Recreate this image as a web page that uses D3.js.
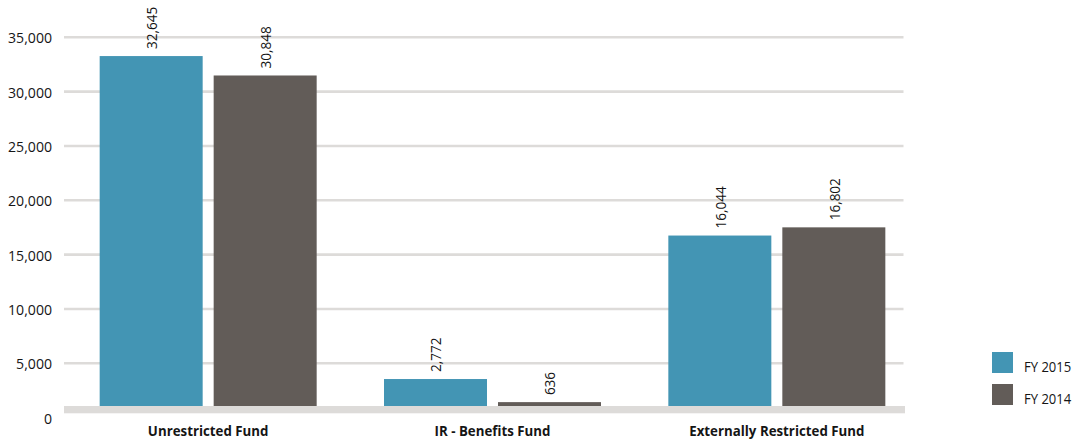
<!DOCTYPE html>
<html>
<head>
<meta charset="utf-8">
<script src="https://cdn.jsdelivr.net/npm/d3@7"></script>
<style>
  html, body { margin: 0; padding: 0; background: #ffffff; }
  svg { display: block; }
  text { font-family: "Open Sans", sans-serif; fill: #151515; }
</style>
</head>
<body>
<svg id="chart" width="1074" height="442"></svg>
<script>
const categories = ["Unrestricted Fund", "IR - Benefits Fund", "Externally Restricted Fund"];
const seriesNames = ["FY 2015", "FY 2014"];
const fy2015 = [32645, 2772, 16044];
const fy2014 = [30848, 636, 16802];
const tickValues = [0, 5000, 10000, 15000, 20000, 25000, 30000, 35000];
const colors = ["#4395b4", "#625c58"];

const seriesValues = [fy2015, fy2014];
const svg = d3.select("#chart");
const FONT = '"Open Sans", sans-serif';

const yAxis = d3.scaleLinear().domain([0, 35000]).range([417.6, 37.3]);
const yBar = d3.scaleLinear().domain([0, 35000]).range([409, 30.6]);

const x0 = d3.scaleBand().domain(categories).range([66, 919]);
const groupW = 217;
const x1 = d3.scaleBand().domain(seriesNames).range([0, groupW]).paddingInner(11 / 114);

svg.append("g")
  .selectAll("line")
  .data(tickValues.filter(d => d > 0))
  .join("line")
  .attr("x1", 64).attr("x2", 903.5)
  .attr("y1", d => yAxis(d)).attr("y2", d => yAxis(d))
  .attr("stroke", "#dddbd9")
  .attr("stroke-width", 2.6);

const axis = d3.axisLeft(yAxis).tickValues(tickValues).tickFormat(d3.format(",")).tickSize(0).tickPadding(0);
const gAxis = svg.append("g").attr("transform", "translate(52,0)").call(axis);
gAxis.select(".domain").remove();
gAxis.attr("font-family", null).attr("font-size", null);
gAxis.selectAll("text")
  .attr("font-size", 15)
  .attr("dy", "0.36em")
  .attr("transform", "scale(0.94,1)")
  .style("font-family", FONT)
  .attr("fill", "#151515");

const groups = svg.append("g")
  .selectAll("g")
  .data(categories)
  .join("g")
  .attr("transform", c => `translate(${x0(c) + (x0.bandwidth() - groupW) / 2},0)`);

groups.selectAll("rect")
  .data((c, i) => seriesNames.map((s, j) => ({ s, v: seriesValues[j][i], j })))
  .join("rect")
  .attr("x", d => x1(d.s))
  .attr("width", x1.bandwidth())
  .attr("y", d => yBar(d.v))
  .attr("height", d => yBar(0) - yBar(d.v))
  .attr("fill", d => colors[d.j]);

groups.selectAll("text.val")
  .data((c, i) => seriesNames.map((s, j) => ({ s, v: seriesValues[j][i], j })))
  .join("text")
  .attr("class", "val")
  .attr("transform", d => `translate(${x1(d.s) + x1.bandwidth() / 2 + 0.3},${yBar(d.v) - 7}) rotate(-90) scale(0.94,1)`)
  .attr("text-anchor", "start")
  .attr("dominant-baseline", "central")
  .attr("font-size", 14.4)
  .text(d => d3.format(",")(d.v));

svg.append("rect")
  .attr("x", 64).attr("width", 905 - 64)
  .attr("y", 406).attr("height", 7.3)
  .attr("fill", "#dddbd9");

svg.append("g")
  .selectAll("text")
  .data(categories)
  .join("text")
  .attr("transform", c => `translate(${x0(c) + x0.bandwidth() / 2},436.3) scale(0.95,1)`)
  .attr("text-anchor", "middle")
  .attr("font-size", 14)
  .attr("font-weight", "bold")
  .text(c => c);

const legend = svg.append("g")
  .selectAll("g")
  .data(seriesNames)
  .join("g")
  .attr("transform", (d, i) => `translate(992,${352 + i * 32})`);
legend.append("rect")
  .attr("width", 21).attr("height", 21)
  .attr("fill", (d, i) => colors[i]);
legend.append("text")
  .attr("transform", "translate(32,20.3) scale(0.88,1)")
  .attr("font-size", 14.8)
  .text(d => d);
</script>
</body>
</html>
